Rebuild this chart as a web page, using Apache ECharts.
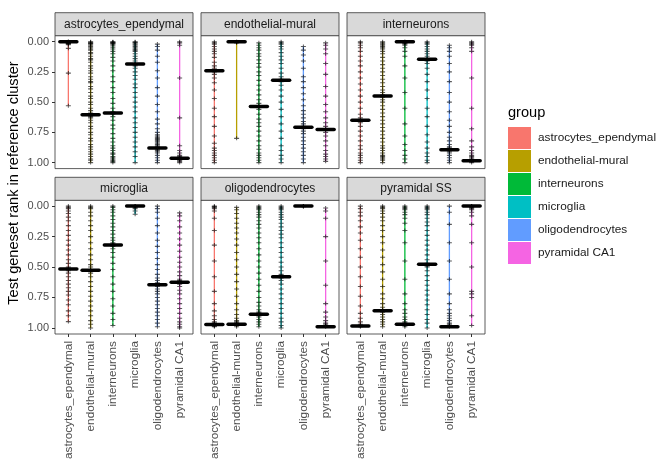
<!DOCTYPE html>
<html><head><meta charset="utf-8">
<script src="https://cdn.jsdelivr.net/npm/echarts@6/dist/echarts.min.js"></script>
<style>html,body{margin:0;padding:0;background:#fff}#c{width:664px;height:464px}</style>
</head><body><div id="c"></div><script>
const groups = ['astrocytes_ependymal','endothelial-mural','interneurons','microglia','oligodendrocytes','pyramidal CA1'];
const panels = ['astrocytes_ependymal','endothelial-mural','interneurons','microglia','oligodendrocytes','pyramidal SS'];
const colors = ['#F8766D','#B79F00','#00BA38','#00BFC4','#619CFF','#F564E3'];
const yTicks = [0, 0.25, 0.5, 0.75, 1];
const yTitle = 'Test geneset rank in reference cluster';
const legendTitle = 'group';

// medians per panel (order of groups)
const medAstro = [0, 0.605, 0.59, 0.185, 0.88, 0.965];
const medEndo  = [0.24, 0, 0.537, 0.32, 0.707, 0.727];
const medInter = [0.65, 0.45, 0, 0.145, 0.895, 0.985];
const medMicro = [0.516, 0.527, 0.32, 0, 0.645, 0.625];
const medOligo = [0.973, 0.97, 0.888, 0.58, 0, 0.99];
const medPyrSS = [0.985, 0.86, 0.97, 0.478, 0.99, 0];

// individual gene-set ranks per panel, one list per group
const ptsAstro = [
  [0,0,0,0.002,0.004,0.006,0.008,0.01,0.012,0.015,0.02,0.025,0.055,0.26,0.53],
  [0,0.005,0.01,0.015,0.02,0.03,0.04,0.05,0.06,0.07,0.09,0.1,0.12,0.14,0.15,0.17,0.2,0.22,0.24,0.26,0.29,0.31,0.33,0.34,0.37,0.39,0.42,0.45,0.47,0.5,0.52,0.55,0.57,0.59,0.6,0.61,0.62,0.63,0.65,0.67,0.7,0.72,0.75,0.77,0.8,0.82,0.85,0.87,0.89,0.91,0.93,0.95,0.97,0.98,1],
  [0,0.003,0.007,0.01,0.015,0.02,0.03,0.045,0.06,0.08,0.1,0.13,0.16,0.2,0.24,0.29,0.33,0.38,0.42,0.47,0.51,0.55,0.58,0.59,0.6,0.62,0.65,0.69,0.72,0.76,0.8,0.83,0.86,0.88,0.9,0.92,0.93,0.95,0.96,0.97,0.98,0.99,1],
  [0,0.005,0.01,0.02,0.03,0.04,0.05,0.06,0.07,0.08,0.1,0.12,0.14,0.16,0.18,0.19,0.2,0.22,0.25,0.28,0.31,0.35,0.38,0.42,0.46,0.5,0.54,0.58,0.63,0.67,0.71,0.75,0.79,0.83,0.87,0.91,0.95,1],
  [0.02,0.04,0.07,0.12,0.17,0.24,0.3,0.38,0.45,0.52,0.58,0.64,0.68,0.72,0.75,0.77,0.78,0.79,0.8,0.81,0.82,0.83,0.84,0.85,0.86,0.87,0.88,0.89,0.9,0.91,0.92,0.94,0.96,0.98,1],
  [0,0.01,0.03,0.3,0.63,0.86,0.9,0.92,0.94,0.95,0.96,0.965,0.97,0.975,0.98,0.99,1]
];
const ptsEndo = [
  [0,0.01,0.02,0.04,0.06,0.08,0.1,0.13,0.17,0.2,0.22,0.24,0.25,0.27,0.3,0.34,0.4,0.47,0.55,0.62,0.7,0.78,0.84,0.88,0.9,0.92,0.94,0.96,0.98,1],
  [0,0,0.003,0.006,0.01,0.8],
  [0.01,0.03,0.05,0.07,0.1,0.12,0.15,0.18,0.21,0.25,0.28,0.32,0.36,0.4,0.44,0.48,0.51,0.53,0.54,0.56,0.6,0.64,0.67,0.7,0.74,0.78,0.82,0.86,0.89,0.92,0.94,0.96,0.98,1],
  [0,0.01,0.02,0.04,0.06,0.09,0.12,0.15,0.18,0.22,0.26,0.29,0.31,0.32,0.33,0.36,0.4,0.45,0.5,0.56,0.62,0.68,0.74,0.8,0.86,0.9,0.94,0.97,1],
  [0.04,0.07,0.11,0.16,0.22,0.29,0.33,0.38,0.43,0.48,0.53,0.57,0.6,0.63,0.66,0.68,0.7,0.71,0.72,0.74,0.76,0.79,0.82,0.85,0.88,0.91,0.94,0.97,1],
  [0.01,0.03,0.06,0.1,0.18,0.27,0.37,0.45,0.52,0.58,0.63,0.67,0.7,0.72,0.73,0.75,0.78,0.82,0.86,0.9,0.93,0.95,0.97,0.99]
];
const ptsInter = [
  [0,0.01,0.03,0.05,0.08,0.12,0.16,0.2,0.25,0.3,0.35,0.4,0.45,0.5,0.55,0.6,0.63,0.65,0.67,0.7,0.74,0.78,0.82,0.86,0.89,0.92,0.94,0.96,0.98,1],
  [0,0.01,0.02,0.03,0.04,0.05,0.06,0.08,0.1,0.13,0.16,0.19,0.22,0.25,0.28,0.31,0.34,0.37,0.4,0.42,0.44,0.45,0.46,0.48,0.5,0.53,0.56,0.59,0.62,0.65,0.68,0.71,0.74,0.77,0.8,0.83,0.86,0.88,0.9,0.92,0.94,0.95,0.96,0.97,0.98,1],
  [0,0,0.002,0.005,0.008,0.012,0.02,0.03,0.05,0.08,0.12,0.2,0.3,0.42,0.55,0.68,0.78,0.85,0.9,0.94,0.97,1],
  [0,0.01,0.02,0.04,0.06,0.08,0.1,0.12,0.14,0.15,0.16,0.18,0.22,0.27,0.33,0.4,0.47,0.55,0.62,0.7,0.77,0.83,0.88,0.92,0.95,0.98,1],
  [0.03,0.05,0.08,0.12,0.18,0.25,0.33,0.42,0.5,0.58,0.65,0.7,0.75,0.79,0.82,0.85,0.87,0.88,0.89,0.9,0.91,0.92,0.94,0.96,0.98,1],
  [0,0.01,0.02,0.03,0.05,0.08,0.3,0.55,0.72,0.82,0.87,0.9,0.92,0.94,0.95,0.96,0.97,0.98,0.985,0.99,1]
];
const ptsMicro = [
  [0,0.01,0.02,0.04,0.06,0.09,0.12,0.16,0.2,0.24,0.28,0.32,0.36,0.4,0.44,0.47,0.5,0.51,0.52,0.53,0.55,0.58,0.61,0.64,0.67,0.7,0.73,0.77,0.81,0.86,0.9,0.948],
  [0,0.01,0.02,0.05,0.08,0.12,0.16,0.2,0.25,0.3,0.35,0.4,0.44,0.48,0.5,0.52,0.53,0.55,0.58,0.62,0.66,0.7,0.74,0.78,0.82,0.86,0.9,0.94,0.97,1],
  [0,0.01,0.03,0.05,0.08,0.11,0.14,0.17,0.2,0.23,0.26,0.28,0.3,0.31,0.32,0.33,0.35,0.38,0.42,0.47,0.52,0.58,0.64,0.7,0.76,0.82,0.88,0.93,0.98],
  [0,0,0.005,0.01,0.02,0.04,0.066],
  [0,0.02,0.05,0.1,0.16,0.22,0.28,0.33,0.38,0.43,0.48,0.52,0.56,0.59,0.61,0.63,0.64,0.65,0.66,0.68,0.7,0.72,0.75,0.78,0.81,0.84,0.87,0.9,0.93,0.96,0.99],
  [0.055,0.08,0.12,0.17,0.22,0.27,0.32,0.37,0.42,0.46,0.5,0.54,0.57,0.6,0.61,0.62,0.63,0.64,0.66,0.69,0.72,0.76,0.8,0.84,0.88,0.92,0.95,0.97,0.99,1]
];
const ptsOligo = [
  [0,0.005,0.01,0.02,0.04,0.1,0.2,0.32,0.45,0.58,0.7,0.8,0.86,0.9,0.93,0.95,0.96,0.965,0.97,0.975,0.98,0.985,0.99],
  [0.01,0.03,0.06,0.1,0.14,0.18,0.22,0.27,0.32,0.38,0.44,0.5,0.56,0.62,0.68,0.74,0.8,0.85,0.89,0.92,0.94,0.95,0.96,0.965,0.97,0.975,0.98,0.99],
  [0,0.01,0.02,0.03,0.05,0.07,0.09,0.12,0.15,0.18,0.22,0.26,0.3,0.35,0.4,0.45,0.5,0.55,0.6,0.65,0.7,0.75,0.79,0.82,0.85,0.87,0.88,0.89,0.9,0.91,0.93,0.95,0.97,0.99],
  [0,0.01,0.02,0.03,0.05,0.07,0.09,0.11,0.14,0.17,0.2,0.23,0.26,0.3,0.34,0.38,0.42,0.46,0.5,0.53,0.56,0.57,0.58,0.59,0.61,0.64,0.68,0.72,0.76,0.8,0.84,0.88,0.92,0.95,0.98,1],
  [0,0,0.002,0.005],
  [0.015,0.04,0.1,0.25,0.45,0.65,0.8,0.87,0.91,0.94,0.96,0.97,0.98,0.985,0.99]
];
const ptsPyrSS = [
  [0,0.02,0.05,0.08,0.12,0.17,0.22,0.28,0.35,0.42,0.5,0.58,0.66,0.74,0.82,0.88,0.92,0.95,0.97,0.98,0.985,0.99],
  [0,0.01,0.02,0.04,0.06,0.09,0.12,0.16,0.2,0.25,0.3,0.36,0.42,0.48,0.54,0.6,0.66,0.72,0.76,0.8,0.83,0.85,0.86,0.87,0.89,0.91,0.93,0.95,0.97,0.99],
  [0,0.01,0.02,0.03,0.05,0.07,0.1,0.14,0.2,0.3,0.45,0.6,0.72,0.8,0.85,0.88,0.91,0.93,0.95,0.96,0.97,0.975,0.98,0.99],
  [0,0.01,0.02,0.03,0.05,0.07,0.1,0.13,0.16,0.2,0.24,0.28,0.32,0.36,0.4,0.44,0.47,0.48,0.49,0.5,0.53,0.57,0.61,0.65,0.69,0.73,0.77,0.81,0.85,0.89,0.93,0.96,1],
  [0,0.05,0.15,0.3,0.45,0.6,0.72,0.8,0.85,0.88,0.9,0.92,0.94,0.96,0.97,0.98,0.985,0.99],
  [0,0,0.003,0.006,0.01,0.02,0.03,0.05,0.08,0.15,0.3,0.5,0.7,0.72,0.75,0.9,0.98]
];

const allPts = [ptsAstro, ptsEndo, ptsInter, ptsMicro, ptsOligo, ptsPyrSS];
const allMed = [medAstro, medEndo, medInter, medMicro, medOligo, medPyrSS];

// layout (pixels)
const colLeft = [55, 201, 347];
const panelW = 138;
const rowTop = [35.6, 200];
const panelH = [133, 134];
const stripTop = [12.7, 177.3];
const stripH = 23;
const FONT = '"Liberation Sans", Arial, Helvetica, sans-serif';

const grids = [], xAxes = [], yAxes = [], series = [], graphics = [];
for (let p = 0; p < 6; p++) {
  const r = Math.floor(p / 3), c = p % 3;
  grids.push({left: colLeft[c], top: rowTop[r], width: panelW, height: panelH[r],
    show: true, borderColor: '#333333', borderWidth: 0.8, backgroundColor: '#fff', containLabel: false});
  const bottom = r === 1, left = c === 0;
  xAxes.push({type: 'value', gridIndex: p, min: -0.6, max: 5.6, position: 'bottom',
    axisLine: {show: false, onZero: false}, splitLine: {show: false},
    axisTick: {show: bottom, customValues: [0,1,2,3,4,5], length: 3, lineStyle: {color: '#333', width: 1}},
    axisLabel: {show: bottom, customValues: [0,1,2,3,4,5], rotate: 90, margin: 7,
      formatter: v => groups[Math.round(v)], fontSize: 11.8, color: '#4D4D4D', fontFamily: FONT}});
  yAxes.push({type: 'value', gridIndex: p, min: -0.05, max: 1.05, inverse: true, position: 'left',
    axisLine: {show: false, onZero: false}, splitLine: {show: false},
    axisTick: {show: left, customValues: yTicks, length: 3, lineStyle: {color: '#333', width: 1}},
    axisLabel: {show: left, customValues: yTicks, margin: 6,
      formatter: v => v.toFixed(2), fontSize: 11, color: '#4D4D4D', fontFamily: FONT}});

  const pts = allPts[p], med = allMed[p];
  const rangeData = pts.map((arr, i) => [i, Math.min(...arr), Math.max(...arr)]);
  series.push({type: 'custom', xAxisIndex: p, yAxisIndex: p, z: 1, silent: true,
    data: rangeData,
    renderItem: (params, api) => {
      const i = api.value(0);
      const a = api.coord([i, api.value(1)]), b = api.coord([i, api.value(2)]);
      return {type: 'line', shape: {x1: a[0], y1: a[1], x2: b[0], y2: b[1]},
        style: {stroke: colors[i], lineWidth: 1.3}};
    }});
  const scat = [];
  pts.forEach((arr, i) => arr.forEach(v => scat.push([i, v])));
  series.push({type: 'scatter', xAxisIndex: p, yAxisIndex: p, z: 2, silent: true,
    symbol: 'path://M0,1.5H5V2.6H0ZM2,0H3V4H2Z', symbolSize: [5, 4],
    itemStyle: {color: 'rgba(0,0,0,0.8)'}, data: scat});
  series.push({type: 'custom', xAxisIndex: p, yAxisIndex: p, z: 3, silent: true,
    data: med.map((m, i) => [i, m]),
    renderItem: (params, api) => {
      const q = api.coord([api.value(0), api.value(1)]);
      return {type: 'line', shape: {x1: q[0] - 8.5, y1: q[1], x2: q[0] + 8.5, y2: q[1]},
        style: {stroke: '#000', lineWidth: 3.5, lineCap: 'round'}};
    }});

  graphics.push({type: 'rect', shape: {x: colLeft[c], y: stripTop[r], width: panelW, height: stripH},
    style: {fill: '#D9D9D9', stroke: '#333333', lineWidth: 0.8}, z: 10});
  graphics.push({type: 'text', x: colLeft[c] + panelW / 2, y: stripTop[r] + stripH / 2,
    style: {text: panels[p], fill: '#1A1A1A', font: '12px ' + FONT, align: 'center', verticalAlign: 'middle'}, z: 11});
}
// legend dummy series
groups.forEach((g, i) => series.push({type: 'line', name: g, data: [], xAxisIndex: 0, yAxisIndex: 0,
  itemStyle: {color: colors[i]}, lineStyle: {color: colors[i]}}));

graphics.push({type: 'text', x: 14, y: 183, rotation: Math.PI / 2,
  style: {text: yTitle, fill: '#000', font: '14.6px ' + FONT, align: 'center', verticalAlign: 'middle'}});
graphics.push({type: 'text', x: 508, y: 113,
  style: {text: legendTitle, fill: '#000', font: '14.6px ' + FONT, align: 'left', verticalAlign: 'middle'}});

const chart = echarts.init(document.getElementById('c'), null, {renderer: 'canvas'});
chart.setOption({
  animation: false,
  backgroundColor: '#fff',
  grid: grids, xAxis: xAxes, yAxis: yAxes, series: series, graphic: graphics,
  legend: {orient: 'vertical', left: 508, top: 127, itemWidth: 23, itemHeight: 22, itemGap: 1,
    icon: 'rect', data: groups, selectedMode: false,
    textStyle: {fontSize: 11.8, color: '#1A1A1A', fontFamily: FONT, padding: [0, 0, 0, 2]}, padding: 0}
});
</script></body></html>
